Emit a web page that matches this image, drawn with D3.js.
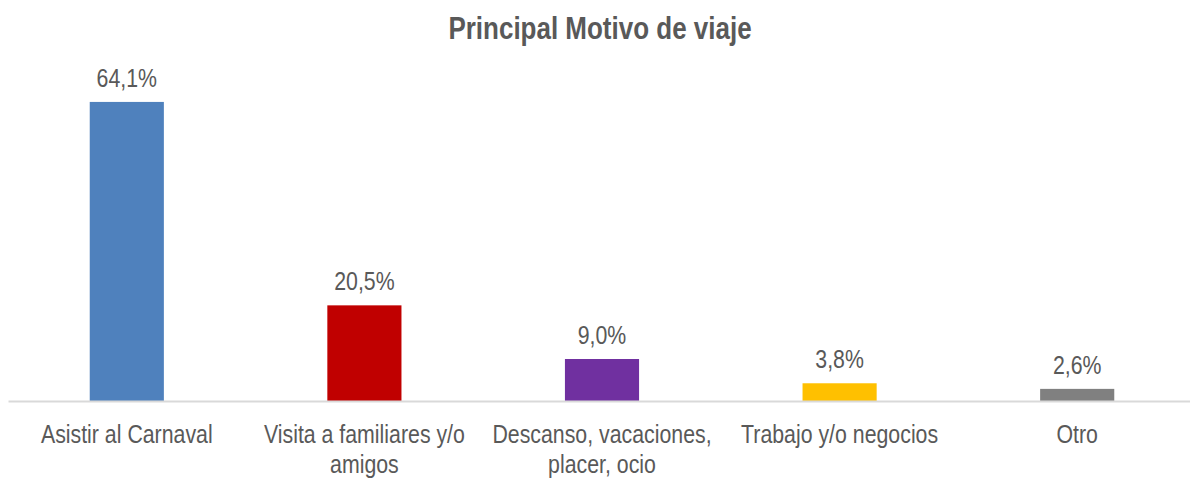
<!DOCTYPE html>
<html>
<head>
<meta charset="utf-8">
<script src="https://cdn.jsdelivr.net/npm/d3@7"></script>
<style>
  body { margin: 0; background: #fff; }
  text { font-family: "Liberation Sans", Arial, sans-serif; fill: #595959; }
</style>
</head>
<body>
<div id="grafico"></div>
<script>
// données du graphique
var categorias = ["Asistir al Carnaval", "Visita a familiares y/o|amigos", "Descanso, vacaciones,|placer, ocio", "Trabajo y/o negocios", "Otro"];
var valores = [64.1, 20.5, 9.0, 3.8, 2.6];
var etiquetas = ["64,1%", "20,5%", "9,0%", "3,8%", "2,6%"];
var colores = ["#4F81BD", "#C00000", "#7030A0", "#FFC000", "#808080"];

var largeur = 1190, hauteur = 478;
// police étroite simulée (pas d'Arial Narrow installée)
var etroit = " scale(0.82,1)";

var svg = d3.select("#grafico")
  .append("svg")
  .attr("width", largeur)
  .attr("height", hauteur);

// échelles
var x = d3.scaleBand()
  .domain(categorias)
  .range([8, 1196])
  .paddingInner(0.688)
  .paddingOuter(0.344);
var y = d3.scaleLinear()
  .domain([0, 70])
  .range([401, 74.4]);

// titre
svg.append("text")
  .attr("transform", "translate(600,39)" + etroit)
  .attr("text-anchor", "middle")
  .attr("font-size", "31.7px")
  .attr("font-weight", "bold")
  .text("Principal Motivo de viaje");

// barres
svg.selectAll(".barre")
  .data(valores)
  .enter()
  .append("rect")
  .attr("class", "barre")
  .attr("x", function(d, i){ return x(categorias[i]); })
  .attr("width", x.bandwidth())
  .attr("y", function(d){ return y(d); })
  .attr("height", function(d){ return y(0) - y(d); })
  .attr("fill", function(d, i){ return colores[i]; });

// étiquettes des valeurs
svg.selectAll(".valeur")
  .data(valores)
  .enter()
  .append("text")
  .attr("class", "valeur")
  .attr("transform", function(d, i){
    return "translate(" + (x(categorias[i]) + x.bandwidth() / 2) + "," + (y(d) - 15) + ")" + etroit;
  })
  .attr("text-anchor", "middle")
  .attr("font-size", "26px")
  .text(function(d, i){ return etiquetas[i]; });

// axe horizontal
var axe = svg.append("g")
  .attr("transform", "translate(0," + y(0) + ")")
  .call(d3.axisBottom(x).tickSize(0).tickFormat(""));
axe.select(".domain").attr("stroke", "#D9D9D9").attr("stroke-width", 2);

// noms des catégories (sur deux lignes si besoin)
var noms = svg.selectAll(".categorie")
  .data(categorias)
  .enter()
  .append("text")
  .attr("class", "categorie")
  .attr("text-anchor", "middle")
  .attr("font-size", "26px")
  .attr("transform", function(d){ return "translate(" + (x(d) + x.bandwidth() / 2) + ",443)" + etroit; });
noms.each(function(d){
  var lignes = d.split("|");
  var t = d3.select(this);
  lignes.forEach(function(l, k){
    t.append("tspan").attr("x", 0).attr("y", k * 30).text(l);
  });
});
</script>
</body>
</html>
